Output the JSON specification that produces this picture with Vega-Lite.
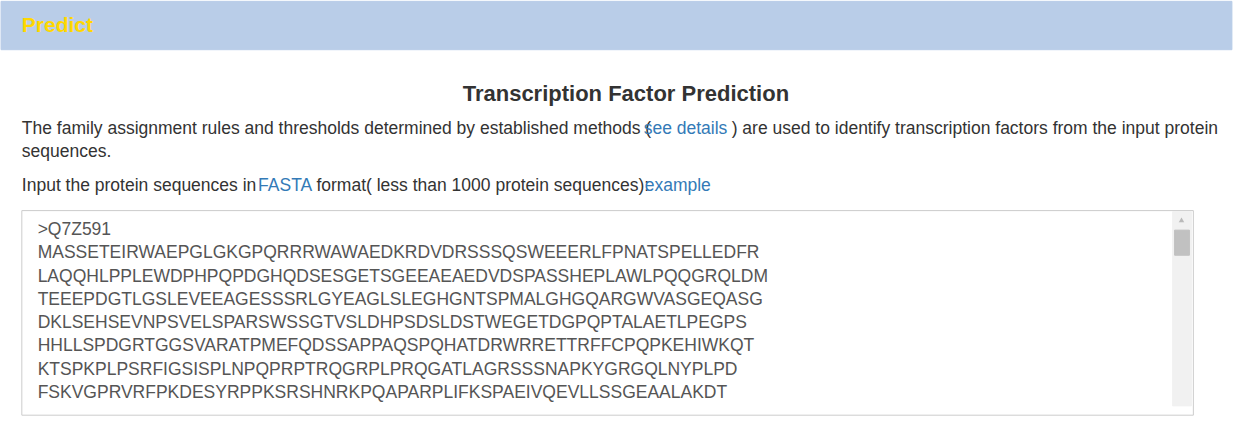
{
"$schema":"https://vega.github.io/schema/vega-lite/v6.json",
"autosize":{"type":"fit","contains":"padding"},
"width":1233,"height":421,"padding":0,
"background":"white",
"config":{"view":{"stroke":null},"font":"Liberation Sans"},
"datasets":{
"boxes":[
{"part":"header","x0":-5,"x1":1240,"y0":-5,"y1":47},
{"part":"textarea","x0":16,"x1":1201,"y0":220,"y1":440},
{"part":"track","x0":1180,"x1":1199,"y0":221,"y1":430},
{"part":"thumb","x0":1182,"x1":1197,"y0":241,"y1":268}
],
"texts":[
{"kind":"brand","role":"brand","x":16,"y":21,"t":"Predict"},
{"kind":"title","role":"title","x":627,"y":95,"t":"Transcription Factor Prediction"},
{"kind":"body","role":"normal","x":16,"y":132,"t":"The family assignment rules and thresholds determined by established methods ("},
{"kind":"body","role":"link","x":645,"y":132,"t":"see details"},
{"kind":"body","role":"normal","x":734,"y":132,"t":") are used to identify transcription factors from the input protein"},
{"kind":"body","role":"normal","x":16,"y":157,"t":"sequences."},
{"kind":"body","role":"normal","x":16,"y":194,"t":"Input the protein sequences in"},
{"kind":"body","role":"link","x":255,"y":194,"t":"FASTA"},
{"kind":"body","role":"normal","x":314,"y":194,"t":"format( less than 1000 protein sequences):"},
{"kind":"body","role":"link","x":646,"y":194,"t":"example"},
{"kind":"seq","role":"seq","x":32,"y":241,"t":">Q7Z591"},
{"kind":"seq","role":"seq","x":32,"y":266,"t":"MASSETEIRWAEPGLGKGPQRRRWAWAEDKRDVDRSSSQSWEEERLFPNATSPELLEDFR"},
{"kind":"seq","role":"seq","x":32,"y":291,"t":"LAQQHLPPLEWDPHPQPDGHQDSESGETSGEEAEAEDVDSPASSHEPLAWLPQQGRQLDM"},
{"kind":"seq","role":"seq","x":32,"y":316,"t":"TEEEPDGTLGSLEVEEAGESSSRLGYEAGLSLEGHGNTSPMALGHGQARGWVASGEQASG"},
{"kind":"seq","role":"seq","x":32,"y":341,"t":"DKLSEHSEVNPSVELSPARSWSSGTVSLDHPSDSLDSTWEGETDGPQPTALAETLPEGPS"},
{"kind":"seq","role":"seq","x":32,"y":366,"t":"HHLLSPDGRTGGSVARATPMEFQDSSAPPAQSPQHATDRWRRETTRFFCPQPKEHIWKQT"},
{"kind":"seq","role":"seq","x":32,"y":391,"t":"KTSPKPLPSRFIGSISPLNPQPRPTRQGRPLPRQGATLAGRSSSNAPKYGRGQLNYPLPD"},
{"kind":"seq","role":"seq","x":32,"y":416,"t":"FSKVGPRVRFPKDESYRPPKSRSHNRKPQAPARPLIFKSPAEIVQEVLLSSGEAALAKDT"}
],
"arrow":[{"x":1189,"y":230}]
},
"layer":[
{"data":{"name":"boxes"},"mark":{"type":"rect","cornerRadius":0,"strokeWidth":1},
"encoding":{
"x":{"field":"x0","type":"quantitative","scale":{"domain":[0,1233],"nice":false,"zero":false},"axis":null},
"x2":{"field":"x1"},
"y":{"field":"y0","type":"quantitative","scale":{"domain":[0,400],"reverse":true,"nice":false,"zero":false},"axis":null},
"y2":{"field":"y1"},
"fill":{"field":"part","type":"nominal","legend":null,"scale":{"domain":["header","textarea","track","thumb"],"range":["#b9cde8","#ffffff","#f1f1f1","#c1c1c1"]}},
"stroke":{"field":"part","type":"nominal","legend":null,"scale":{"domain":["header","textarea","track","thumb"],"range":["#b9cde8","#cccccc","#f1f1f1","#c1c1c1"]}}
}},
{"data":{"name":"arrow"},"mark":{"type":"point","shape":"triangle-up","filled":true,"size":30,"color":"#a3a3a3"},
"encoding":{"x":{"field":"x","type":"quantitative"},"y":{"field":"y","type":"quantitative"}}},
{"data":{"name":"texts"},"transform":[{"filter":"datum.kind==='brand'"}],
"mark":{"type":"text","align":"left","baseline":"middle","fontSize":21,"fontWeight":"bold"},
"encoding":{"x":{"field":"x","type":"quantitative"},"y":{"field":"y","type":"quantitative"},"text":{"field":"t"},
"color":{"field":"role","type":"nominal","legend":null,"scale":{"domain":["brand","title","normal","link","seq"],"range":["#ffd700","#333333","#333333","#337ab7","#555555"]}}}},
{"data":{"name":"texts"},"transform":[{"filter":"datum.kind==='title'"}],
"mark":{"type":"text","align":"center","baseline":"middle","fontSize":22,"fontWeight":"bold"},
"encoding":{"x":{"field":"x","type":"quantitative"},"y":{"field":"y","type":"quantitative"},"text":{"field":"t"},
"color":{"field":"role","type":"nominal","legend":null}}},
{"data":{"name":"texts"},"transform":[{"filter":"datum.kind==='body' || datum.kind==='seq'"}],
"mark":{"type":"text","align":"left","baseline":"middle","fontSize":17.5},
"encoding":{"x":{"field":"x","type":"quantitative"},"y":{"field":"y","type":"quantitative"},"text":{"field":"t"},
"color":{"field":"role","type":"nominal","legend":null}}}
]
}
